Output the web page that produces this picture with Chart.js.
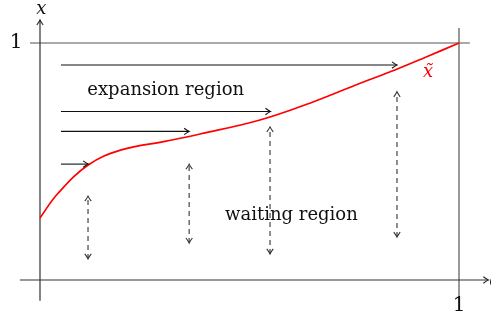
<!DOCTYPE html>
<html>
<head>
<meta charset="utf-8">
<script src="https://cdn.jsdelivr.net/npm/chart.js@4"></script>
<style>
html,body{margin:0;padding:0;background:#fff;}
#wrap{width:491px;height:316px;}
</style>
</head>
<body>
<div id="wrap"><canvas id="c" width="491" height="316"></canvas></div>
<script>
// ---- data ----
const curveX = [0, 0.043, 0.115, 0.194, 0.301, 0.382, 0.525, 0.644, 0.764, 0.847, 0.923, 1];
const curveY = [0.262, 0.366, 0.485, 0.549, 0.586, 0.616, 0.675, 0.746, 0.830, 0.886, 0.942, 1];

// horizontal (expansion) arrows: start x, end x, level y
const hArrowStart = [0.05, 0.05, 0.05, 0.05];
const hArrowEnd   = [0.852, 0.550, 0.356, 0.115];
const hArrowY     = [0.907, 0.711, 0.627, 0.489];

// vertical (waiting) dashed double arrows: x, bottom y, top y
const vArrowX      = [0.1146, 0.356, 0.549, 0.852];
const vArrowBottom = [0.089, 0.156, 0.110, 0.181];
const vArrowTop    = [0.354, 0.489, 0.646, 0.794];

const labels = {
  expansion: {text: 'expansion region', x: 0.30, y: 0.80},
  waiting:   {text: 'waiting region',   x: 0.60, y: 0.274},
  xt:        {text: 'x̃', x: 0.926, y: 0.878}
};

const curve = curveX.map((x, i) => ({x, y: curveY[i]}));

const datasets = [{
  data: curve, borderColor: '#ff0000', borderWidth: 1.7, pointRadius: 0,
  tension: 0.4, fill: false
}];
hArrowY.forEach((y, i) => datasets.push({
  data: [{x: hArrowStart[i], y}, {x: hArrowEnd[i], y}],
  borderColor: '#111', borderWidth: 1.1, pointRadius: 0, kind: 'h'
}));
vArrowX.forEach((x, i) => datasets.push({
  data: [{x, y: vArrowBottom[i]}, {x, y: vArrowTop[i]}],
  borderColor: '#444', borderWidth: 1.2, borderDash: [5, 4], pointRadius: 0, kind: 'v'
}));

function head(ctx, x, y, dir, color) {
  const L = 5, W = 3.2;
  ctx.save();
  ctx.translate(x, y);
  ctx.rotate(dir);
  ctx.strokeStyle = color;
  ctx.lineWidth = 1.1;
  ctx.setLineDash([]);
  ctx.beginPath();
  ctx.moveTo(-L, -W);
  ctx.quadraticCurveTo(-L * 0.3, -W * 0.2, 0, 0);
  ctx.quadraticCurveTo(-L * 0.3, W * 0.2, -L, W);
  ctx.stroke();
  ctx.restore();
}

const deco = {
  id: 'deco',
  beforeDatasetsDraw(chart) {
    const {ctx, scales: {x: sx, y: sy}} = chart;
    const X = v => sx.getPixelForValue(v), Y = v => sy.getPixelForValue(v);
    ctx.save();
    ctx.setLineDash([]);
    ctx.strokeStyle = '#555';
    ctx.lineWidth = 1.2;
    ctx.beginPath();
    ctx.moveTo(X(-0.024), Y(1)); ctx.lineTo(X(1.026), Y(1));
    ctx.moveTo(X(1), Y(1.063)); ctx.lineTo(X(1), Y(-0.076));
    ctx.stroke();
    ctx.strokeStyle = '#333';
    ctx.beginPath();
    ctx.moveTo(X(-0.048), Y(0)); ctx.lineTo(X(1.07), Y(0));
    ctx.moveTo(X(0), Y(-0.088)); ctx.lineTo(X(0), Y(1.097));
    ctx.stroke();
    head(ctx, X(1.07), Y(0), 0, '#222');
    head(ctx, X(0), Y(1.097), -Math.PI / 2, '#222');
    ctx.restore();
  },
  afterDatasetsDraw(chart) {
    const {ctx, scales: {x: sx, y: sy}} = chart;
    const X = v => sx.getPixelForValue(v), Y = v => sy.getPixelForValue(v);
    ctx.save();
    chart.data.datasets.forEach(ds => {
      if (ds.kind === 'h') {
        const p = ds.data[1];
        head(ctx, X(p.x), Y(p.y), 0, '#111');
      } else if (ds.kind === 'v') {
        const a = ds.data[0], b = ds.data[1];
        head(ctx, X(a.x), Y(a.y), Math.PI / 2, '#333');
        head(ctx, X(b.x), Y(b.y), -Math.PI / 2, '#333');
      }
    });
    ctx.fillStyle = '#111';
    ctx.textAlign = 'center';
    ctx.textBaseline = 'middle';
    ctx.font = '18px "DejaVu Serif"';
    ctx.fillText(labels.expansion.text, X(labels.expansion.x), Y(labels.expansion.y));
    ctx.fillText(labels.waiting.text, X(labels.waiting.x), Y(labels.waiting.y));
    ctx.font = '20px "DejaVu Serif"';
    ctx.fillText('1', X(-0.057), Y(1));
    ctx.fillText('1', X(1), Y(-0.11));
    ctx.font = 'italic 18px "DejaVu Serif"';
    ctx.fillText('x', X(0.003), Y(1.14));
    ctx.textAlign = 'left';
    ctx.fillText('c', X(1.072), Y(-0.005));
    ctx.fillStyle = '#ff0000';
    ctx.textAlign = 'center';
    ctx.fillText(labels.xt.text, X(labels.xt.x), Y(labels.xt.y));
    ctx.restore();
  }
};

new Chart(document.getElementById('c'), {
  type: 'line',
  data: {datasets},
  options: {
    responsive: false,
    animation: false,
    layout: {padding: 0},
    plugins: {legend: {display: false}, tooltip: {enabled: false}},
    scales: {
      x: {type: 'linear', display: false, min: -40 / 419, max: 451 / 419},
      y: {type: 'linear', display: false, min: -36 / 237, max: 280 / 237}
    }
  },
  plugins: [deco]
});
</script>
</body>
</html>
